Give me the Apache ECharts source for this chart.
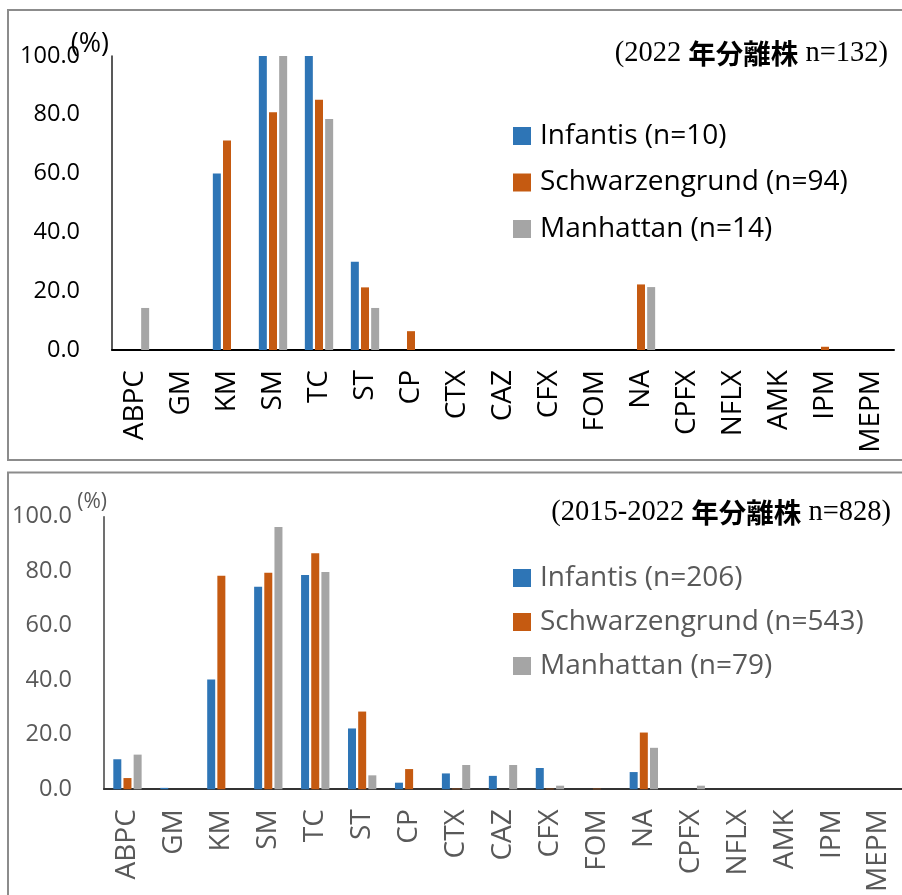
<!DOCTYPE html>
<html><head><meta charset="utf-8">
<script src="https://cdn.jsdelivr.net/npm/echarts@6/dist/echarts.min.js"></script>
<style>html,body{margin:0;padding:0;background:#fff}#c{width:902px;height:895px}</style>
</head><body><div id="c"></div>
<script>
const categories = ['ABPC','GM','KM','SM','TC','ST','CP','CTX','CAZ','CFX','FOM','NA','CPFX','NFLX','AMK','IPM','MEPM'];
const seriesNames2022 = ['Infantis (n=10)','Schwarzengrund (n=94)','Manhattan (n=14)'];
const seriesNamesAll = ['Infantis (n=206)','Schwarzengrund (n=543)','Manhattan (n=79)'];
const infantis2022 = [0,0,60,100,100,30,0,0,0,0,0,0,0,0,0,0,0];
const schwarz2022 = [0,0,71.3,80.9,85.1,21.3,6.4,0,0,0,0,22.3,0,0,0,1.1,0];
const manhattan2022 = [14.3,0,0,100,78.6,14.3,0,0,0,0,0,21.4,0,0,0,0,0];
const infantisAll = [11.0,0.5,40.3,74.3,78.6,22.3,2.4,5.8,4.9,7.8,0,6.3,0,0,0,0,0];
const schwarzAll = [4.1,0,78.3,79.4,86.6,28.5,7.4,0.2,0,0.2,0.2,20.8,0,0,0,0,0];
const manhattanAll = [12.7,0,0,96.2,79.7,5.1,0,8.9,8.9,1.3,0,15.2,1.3,0,0,0,0];
const titleTop = ['(2022 ','年分離株',' n=132)'];
const titleBottom = ['(2015-2022 ','年分離株',' n=828)'];
const unitName = '(%)';
const colors = ['#2E75B6','#C55A11','#A5A5A5'];

const chart = echarts.init(document.getElementById('c'));
const sans = 'Open Sans';
const rich = (col) => ({
  a: {fontFamily: 'Liberation Serif', fontSize: 28.5, fontWeight: 'normal', color: col},
  b: {fontFamily: 'Noto Sans CJK JP', fontSize: 27.5, fontWeight: 'bold', color: col}
});
function yAx(gi, col) {
  return {
    gridIndex: gi, type: 'value', min: 0, max: 100, interval: 20,
    axisLine: {show: true, lineStyle: {color: gi === 0 ? '#222' : '#404040', width: 1.5}},
    axisTick: {show: false}, splitLine: {show: false},
    axisLabel: {margin: 32, fontSize: 23.5, fontFamily: sans, color: col, formatter: v => v.toFixed(1)}
  };
}
function xAx(gi, col) {
  return {
    gridIndex: gi, type: 'category', data: categories,
    axisLine: {lineStyle: {color: gi === 0 ? '#000' : '#333', width: 2}},
    axisTick: {show: false},
    axisLabel: {rotate: 90, margin: 20, fontSize: 28, fontFamily: sans, color: col, interval: 0, hideOverlap: false}
  };
}
function bars(names, arrs, xi) {
  return names.map((n, i) => ({
    name: n, type: 'bar', xAxisIndex: xi, yAxisIndex: xi, data: arrs[i],
    barWidth: 8, barGap: '27%', itemStyle: {color: colors[i]}, silent: true
  }));
}
chart.setOption({
  animation: false,
  backgroundColor: '#fff',
  title: [
    {text: '{a|' + titleTop[0] + '}{b|' + titleTop[1] + '}{a|' + titleTop[2] + '}', right: 14, top: 39, padding: 0,
     textStyle: {fontWeight: 'normal', rich: rich('#000')}},
    {text: '{a|' + titleBottom[0] + '}{b|' + titleBottom[1] + '}{a|' + titleBottom[2] + '}', right: 11, top: 498, padding: 0,
     textStyle: {fontWeight: 'normal', rich: rich('#000')}}
  ],
  legend: [
    {data: seriesNames2022, orient: 'vertical', left: 513, top: 122, itemWidth: 18, itemHeight: 18, itemGap: 18.5,
     icon: 'rect', selectedMode: false, padding: 0,
     textStyle: {fontSize: 28, fontFamily: sans, color: '#000', lineHeight: 28, padding: [0,0,0,4]}},
    {data: seriesNamesAll, orient: 'vertical', left: 513, top: 564, itemWidth: 18, itemHeight: 18, itemGap: 16,
     icon: 'rect', selectedMode: false, padding: 0,
     textStyle: {fontSize: 28, fontFamily: sans, color: '#595959', lineHeight: 28, padding: [0,0,0,4]}}
  ],
  grid: [
    {left: 112, right: 8, top: 56, height: 294},
    {left: 104, right: -12, top: 516.7, height: 273.3}
  ],
  xAxis: [xAx(0, '#000'), xAx(1, '#595959')],
  yAxis: [yAx(0, '#000'), yAx(1, '#595959')],
  series: bars(seriesNames2022, [infantis2022, schwarz2022, manhattan2022], 0)
    .concat(bars(seriesNamesAll, [infantisAll, schwarzAll, manhattanAll], 1)),
  graphic: [
    {type: 'rect', shape: {x: 8, y: 10, width: 1000, height: 450}, style: {fill: 'none', stroke: '#8c8c8c', lineWidth: 2}, z: -1, silent: true},
    {type: 'rect', shape: {x: 8, y: 472.5, width: 1000, height: 500}, style: {fill: 'none', stroke: '#8c8c8c', lineWidth: 2}, z: -1, silent: true},
    {type: 'text', x: 109, y: 44, z: 10, silent: true,
     style: {text: unitName, fill: '#000', fontSize: 27, fontFamily: sans, align: 'right', verticalAlign: 'middle'}},
    {type: 'text', x: 107, y: 502, z: 10, silent: true,
     style: {text: unitName, fill: '#595959', fontSize: 21, fontFamily: sans, align: 'right', verticalAlign: 'middle'}}
  ]
});
</script></body></html>
